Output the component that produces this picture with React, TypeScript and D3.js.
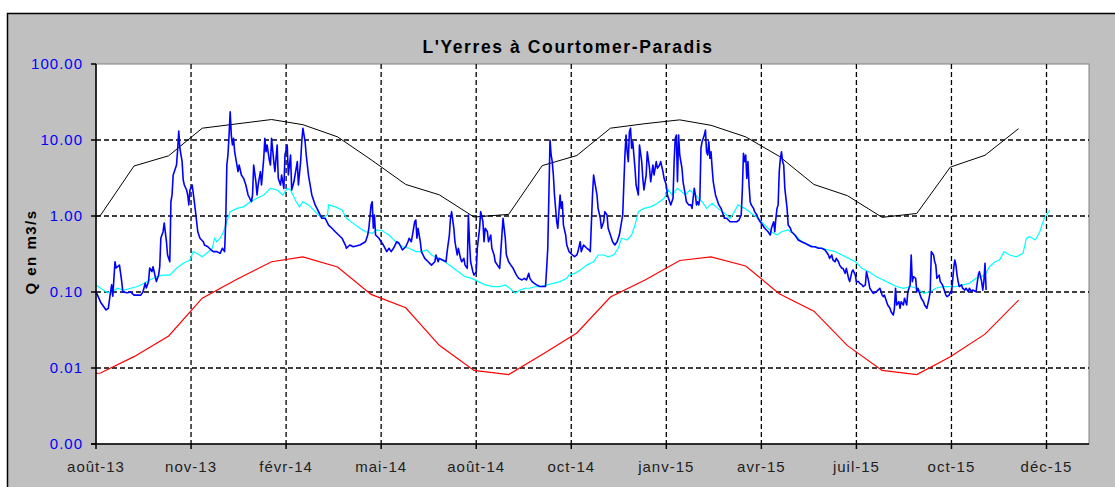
import React from 'react'
import * as d3 from 'd3'

// L'Yerres à Courtomer-Paradis : débit journalier + enveloppes mensuelles
const chartTitle = "L'Yerres à Courtomer-Paradis"
const yAxisTitle = 'Q en m3/s'
const yTicks = [100, 10, 1, 0.1, 0.01, 0.001]
const xTickDates = ['2013-08-28', '2013-11-21', '2014-02-14', '2014-05-10', '2014-08-03', '2014-10-27',
    '2015-01-20', '2015-04-15', '2015-07-09', '2015-10-02', '2015-12-26']
const frMonths = ['janv', 'févr', 'mars', 'avr', 'mai', 'juin', 'juil', 'août', 'sept', 'oct', 'nov', 'déc']
const xDomain = ['2013-08-28', '2016-02-02']

// maximum mensuel (noir)
const monthlyMax: [string, number][] = [
    ['2013-08-28', 0.98], ['2013-09-01', 1.02], ['2013-10-01', 4.55], ['2013-11-01', 6.2], ['2013-12-01', 14.3],
    ['2014-01-01', 16.3], ['2014-02-01', 18.6], ['2014-03-01', 15.9], ['2014-04-01', 11.0], ['2014-05-01', 5.5],
    ['2014-06-01', 2.6], ['2014-07-01', 1.9], ['2014-08-01', 0.97], ['2014-09-01', 1.05], ['2014-10-01', 4.6],
    ['2014-11-01', 6.25], ['2014-12-01', 14.3], ['2015-01-01', 16.4], ['2015-02-01', 18.4], ['2015-03-01', 15.6],
    ['2015-04-01', 11.0], ['2015-05-01', 6.1], ['2015-06-01', 2.6], ['2015-07-01', 1.85], ['2015-08-01', 0.96],
    ['2015-09-01', 1.08], ['2015-10-01', 4.4], ['2015-11-01', 6.3], ['2015-12-01', 14.1],
]

// minimum mensuel (rouge)
const monthlyMin: [string, number][] = [
    ['2013-08-28', 0.0085], ['2013-09-01', 0.0086], ['2013-10-01', 0.0141], ['2013-11-01', 0.0264], ['2013-12-01', 0.083],
    ['2014-01-01', 0.147], ['2014-02-01', 0.25], ['2014-03-01', 0.29], ['2014-04-01', 0.213], ['2014-05-01', 0.093],
    ['2014-06-01', 0.062], ['2014-07-01', 0.0199], ['2014-08-01', 0.0093], ['2014-09-01', 0.0082], ['2014-10-01', 0.0151],
    ['2014-11-01', 0.0289], ['2014-12-01', 0.086], ['2015-01-01', 0.144], ['2015-02-01', 0.26], ['2015-03-01', 0.29],
    ['2015-04-01', 0.22], ['2015-05-01', 0.095], ['2015-06-01', 0.056], ['2015-07-01', 0.0197], ['2015-08-01', 0.0093],
    ['2015-09-01', 0.0082], ['2015-10-01', 0.0141], ['2015-11-01', 0.0279], ['2015-12-01', 0.078],
]

// médiane interannuelle (cyan)
const medianFlow: [string, number][] = [
    ['2013-08-28', 0.124], ['2013-09-01', 0.112], ['2013-09-06', 0.101], ['2013-09-10', 0.096], ['2013-09-16', 0.112],
    ['2013-09-22', 0.106], ['2013-09-28', 0.112], ['2013-10-04', 0.118], ['2013-10-10', 0.13], ['2013-10-15', 0.144],
    ['2013-10-21', 0.159], ['2013-10-27', 0.167], ['2013-11-02', 0.167], ['2013-11-08', 0.205], ['2013-11-14', 0.239],
    ['2013-11-20', 0.264], ['2013-11-23', 0.34], ['2013-11-26', 0.323], ['2013-12-01', 0.291], ['2013-12-05', 0.323],
    ['2013-12-10', 0.376], ['2013-12-12', 0.51], ['2013-12-14', 0.459], ['2013-12-17', 0.51], ['2013-12-20', 0.62],
    ['2013-12-23', 0.84], ['2013-12-26', 1.14], ['2014-01-01', 1.26], ['2014-01-07', 1.32], ['2014-01-13', 1.54],
    ['2014-01-19', 1.71], ['2014-01-25', 1.89], ['2014-01-31', 2.31], ['2014-02-06', 2.2], ['2014-02-11', 1.89],
    ['2014-02-15', 2.31], ['2014-02-18', 2.2], ['2014-02-23', 1.54], ['2014-02-26', 1.32], ['2014-03-01', 1.54],
    ['2014-03-06', 1.4], ['2014-03-12', 1.14], ['2014-03-18', 0.933], ['2014-03-23', 1.03], ['2014-03-24', 1.4],
    ['2014-03-30', 1.32], ['2014-04-05', 1.2], ['2014-04-09', 0.933], ['2014-04-15', 0.8], ['2014-04-21', 0.689],
    ['2014-04-26', 0.62], ['2014-05-02', 0.591], ['2014-05-06', 0.655], ['2014-05-11', 0.64], ['2014-05-17', 0.562],
    ['2014-05-23', 0.459], ['2014-05-29', 0.394], ['2014-06-04', 0.376], ['2014-06-10', 0.34], ['2014-06-15', 0.34],
    ['2014-06-20', 0.357], ['2014-06-24', 0.307], ['2014-06-30', 0.277], ['2014-07-06', 0.25], ['2014-07-12', 0.215],
    ['2014-07-18', 0.185], ['2014-07-24', 0.159], ['2014-07-30', 0.151], ['2014-08-05', 0.137], ['2014-08-11', 0.124],
    ['2014-08-18', 0.118], ['2014-08-24', 0.118], ['2014-08-29', 0.124], ['2014-09-02', 0.112], ['2014-09-07', 0.096],
    ['2014-09-11', 0.106], ['2014-09-16', 0.112], ['2014-09-20', 0.112], ['2014-09-25', 0.118], ['2014-09-29', 0.118],
    ['2014-10-05', 0.124], ['2014-10-11', 0.13], ['2014-10-17', 0.137], ['2014-10-23', 0.151], ['2014-10-25', 0.167],
    ['2014-10-30', 0.176], ['2014-11-04', 0.195], ['2014-11-10', 0.226], ['2014-11-16', 0.25], ['2014-11-20', 0.307],
    ['2014-11-25', 0.307], ['2014-11-29', 0.291], ['2014-12-04', 0.307], ['2014-12-08', 0.376], ['2014-12-11', 0.51],
    ['2014-12-16', 0.483], ['2014-12-20', 0.562], ['2014-12-23', 0.76], ['2014-12-26', 1.14], ['2014-12-31', 1.26],
    ['2015-01-06', 1.32], ['2015-01-12', 1.47], ['2015-01-18', 1.71], ['2015-01-22', 2.2], ['2015-01-25', 1.89],
    ['2015-01-30', 2.31], ['2015-02-01', 2.2], ['2015-02-06', 1.89], ['2015-02-10', 2.2], ['2015-02-15', 1.89],
    ['2015-02-21', 1.54], ['2015-02-25', 1.26], ['2015-03-02', 1.47], ['2015-03-07', 1.26], ['2015-03-13', 1.09],
    ['2015-03-18', 0.933], ['2015-03-22', 1.14], ['2015-03-25', 1.4], ['2015-03-31', 1.26], ['2015-04-06', 1.09],
    ['2015-04-12', 0.933], ['2015-04-18', 0.76], ['2015-04-24', 0.62], ['2015-04-29', 0.562], ['2015-05-03', 0.62],
    ['2015-05-09', 0.655], ['2015-05-15', 0.562], ['2015-05-21', 0.459], ['2015-05-27', 0.415], ['2015-06-02', 0.394],
    ['2015-06-08', 0.376], ['2015-06-14', 0.357], ['2015-06-20', 0.34], ['2015-06-26', 0.307], ['2015-07-02', 0.277],
    ['2015-07-08', 0.25], ['2015-07-14', 0.205], ['2015-07-20', 0.185], ['2015-07-27', 0.159], ['2015-08-02', 0.144],
    ['2015-08-08', 0.13], ['2015-08-14', 0.118], ['2015-08-20', 0.112], ['2015-08-26', 0.118], ['2015-09-01', 0.112],
    ['2015-09-07', 0.096], ['2015-09-13', 0.101], ['2015-09-18', 0.112], ['2015-09-24', 0.118], ['2015-09-30', 0.118],
    ['2015-10-06', 0.118], ['2015-10-12', 0.124], ['2015-10-18', 0.13], ['2015-10-24', 0.151], ['2015-10-28', 0.159],
    ['2015-11-01', 0.167], ['2015-11-05', 0.215], ['2015-11-10', 0.25], ['2015-11-14', 0.264], ['2015-11-18', 0.34],
    ['2015-11-23', 0.307], ['2015-11-29', 0.291], ['2015-12-05', 0.323], ['2015-12-08', 0.51], ['2015-12-11', 0.535],
    ['2015-12-16', 0.483], ['2015-12-20', 0.62], ['2015-12-24', 0.933], ['2015-12-29', 1.2],
]

// débit journalier observé (bleu)
const dailyFlow: [string, number][] = [
    ['2013-08-28', 0.101], ['2013-09-01', 0.074], ['2013-09-06', 0.058], ['2013-09-08', 0.061], ['2013-09-10', 0.1],
    ['2013-09-11', 0.124], ['2013-09-12', 0.088], ['2013-09-14', 0.25], ['2013-09-15', 0.207], ['2013-09-18', 0.226],
    ['2013-09-20', 0.137], ['2013-09-21', 0.1], ['2013-09-25', 0.098], ['2013-09-28', 0.1], ['2013-10-01', 0.091],
    ['2013-10-07', 0.091], ['2013-10-09', 0.1], ['2013-10-11', 0.131], ['2013-10-12', 0.113], ['2013-10-14', 0.137],
    ['2013-10-15', 0.207], ['2013-10-17', 0.185], ['2013-10-18', 0.215], ['2013-10-20', 0.159], ['2013-10-21', 0.137],
    ['2013-10-23', 0.167], ['2013-10-24', 0.215], ['2013-10-25', 0.514], ['2013-10-27', 0.621], ['2013-10-28', 0.81],
    ['2013-10-30', 0.459], ['2013-10-31', 0.307], ['2013-11-02', 0.25], ['2013-11-03', 1.54], ['2013-11-04', 1.89],
    ['2013-11-05', 3.46], ['2013-11-06', 3.83], ['2013-11-08', 4.69], ['2013-11-09', 7.4], ['2013-11-10', 13.1],
    ['2013-11-11', 7.8], ['2013-11-13', 5.2], ['2013-11-14', 2.98], ['2013-11-15', 2.56], ['2013-11-17', 2.2],
    ['2013-11-18', 1.89], ['2013-11-19', 1.4], ['2013-11-20', 2.2], ['2013-11-22', 2.56], ['2013-11-23', 1.99],
    ['2013-11-25', 1.14], ['2013-11-26', 0.84], ['2013-11-27', 0.62], ['2013-11-29', 0.51], ['2013-12-02', 0.459],
    ['2013-12-03', 0.415], ['2013-12-06', 0.394], ['2013-12-09', 0.357], ['2013-12-11', 0.34], ['2013-12-14', 0.34],
    ['2013-12-17', 0.323], ['2013-12-19', 0.376], ['2013-12-21', 0.34], ['2013-12-22', 0.84], ['2013-12-23', 4.69],
    ['2013-12-24', 6.35], ['2013-12-25', 11.6], ['2013-12-26', 23.5], ['2013-12-27', 11.6], ['2013-12-28', 8.6],
    ['2013-12-29', 10.5], ['2013-12-30', 7.0], ['2014-01-01', 4.69], ['2014-01-02', 3.83], ['2014-01-03', 4.69],
    ['2014-01-05', 3.46], ['2014-01-07', 3.13], ['2014-01-09', 2.56], ['2014-01-11', 1.89], ['2014-01-14', 1.54],
    ['2014-01-15', 1.89], ['2014-01-16', 4.69], ['2014-01-18', 2.82], ['2014-01-19', 1.89], ['2014-01-20', 2.56],
    ['2014-01-22', 3.83], ['2014-01-23', 2.56], ['2014-01-25', 5.74], ['2014-01-26', 10.5], ['2014-01-27', 7.0],
    ['2014-01-28', 8.6], ['2014-01-30', 5.45], ['2014-01-31', 4.69], ['2014-02-01', 10.5], ['2014-02-03', 5.2],
    ['2014-02-04', 3.83], ['2014-02-06', 8.6], ['2014-02-07', 3.13], ['2014-02-09', 2.56], ['2014-02-10', 3.46],
    ['2014-02-12', 2.31], ['2014-02-13', 6.35], ['2014-02-15', 8.6], ['2014-02-16', 3.46], ['2014-02-18', 6.35],
    ['2014-02-19', 2.2], ['2014-02-21', 2.82], ['2014-02-22', 3.46], ['2014-02-24', 5.2], ['2014-02-25', 2.56],
    ['2014-02-27', 5.2], ['2014-02-28', 9.5], ['2014-03-01', 14.3], ['2014-03-03', 9.5], ['2014-03-04', 6.35],
    ['2014-03-06', 3.46], ['2014-03-09', 1.89], ['2014-03-12', 1.4], ['2014-03-15', 1.14], ['2014-03-18', 0.933],
    ['2014-03-21', 0.933], ['2014-03-24', 0.76], ['2014-03-27', 0.689], ['2014-03-30', 0.62], ['2014-04-02', 0.562],
    ['2014-04-05', 0.51], ['2014-04-08', 0.415], ['2014-04-09', 0.376], ['2014-04-12', 0.415], ['2014-04-15', 0.394],
    ['2014-04-21', 0.415], ['2014-04-26', 0.459], ['2014-04-28', 0.562], ['2014-04-29', 0.689], ['2014-05-01', 1.4],
    ['2014-05-02', 1.54], ['2014-05-03', 0.689], ['2014-05-04', 1.03], ['2014-05-05', 0.562], ['2014-05-08', 0.51],
    ['2014-05-10', 0.459], ['2014-05-12', 0.415], ['2014-05-15', 0.34], ['2014-05-17', 0.376], ['2014-05-19', 0.34],
    ['2014-05-21', 0.376], ['2014-05-24', 0.459], ['2014-05-26', 0.438], ['2014-05-29', 0.357], ['2014-06-01', 0.394],
    ['2014-06-03', 0.459], ['2014-06-04', 0.51], ['2014-06-06', 0.459], ['2014-06-07', 0.562], ['2014-06-09', 0.84],
    ['2014-06-10', 0.885], ['2014-06-11', 0.51], ['2014-06-12', 0.689], ['2014-06-14', 0.459], ['2014-06-15', 0.34],
    ['2014-06-18', 0.277], ['2014-06-21', 0.25], ['2014-06-24', 0.226], ['2014-06-27', 0.25], ['2014-06-28', 0.307],
    ['2014-06-30', 0.25], ['2014-07-01', 0.277], ['2014-07-04', 0.264], ['2014-07-07', 0.25], ['2014-07-08', 0.34],
    ['2014-07-10', 0.562], ['2014-07-11', 0.933], ['2014-07-12', 1.14], ['2014-07-14', 0.689], ['2014-07-15', 0.459],
    ['2014-07-17', 0.307], ['2014-07-18', 0.376], ['2014-07-20', 0.277], ['2014-07-21', 0.25], ['2014-07-23', 0.277],
    ['2014-07-24', 0.226], ['2014-07-26', 0.205], ['2014-07-27', 1.03], ['2014-07-28', 0.459], ['2014-07-29', 0.25],
    ['2014-07-31', 0.185], ['2014-08-01', 0.167], ['2014-08-03', 0.185], ['2014-08-04', 0.376], ['2014-08-06', 0.689],
    ['2014-08-07', 1.14], ['2014-08-09', 0.84], ['2014-08-10', 0.459], ['2014-08-11', 0.689], ['2014-08-13', 0.62],
    ['2014-08-14', 0.459], ['2014-08-16', 0.562], ['2014-08-17', 0.376], ['2014-08-19', 0.307], ['2014-08-20', 0.25],
    ['2014-08-22', 0.226], ['2014-08-24', 0.205], ['2014-08-25', 0.34], ['2014-08-27', 0.933], ['2014-08-28', 0.689],
    ['2014-08-29', 0.51], ['2014-08-30', 0.307], ['2014-09-01', 0.25], ['2014-09-03', 0.226], ['2014-09-05', 0.205],
    ['2014-09-08', 0.167], ['2014-09-10', 0.151], ['2014-09-13', 0.144], ['2014-09-15', 0.151], ['2014-09-17', 0.144],
    ['2014-09-19', 0.176], ['2014-09-20', 0.151], ['2014-09-22', 0.137], ['2014-09-24', 0.13], ['2014-09-26', 0.124],
    ['2014-09-29', 0.118], ['2014-10-04', 0.118], ['2014-10-05', 0.205], ['2014-10-06', 0.376], ['2014-10-07', 1.89],
    ['2014-10-08', 10], ['2014-10-09', 6.35], ['2014-10-10', 5.2], ['2014-10-11', 3.46], ['2014-10-12', 1.89],
    ['2014-10-14', 0.84], ['2014-10-15', 0.689], ['2014-10-17', 1.89], ['2014-10-18', 1.26], ['2014-10-19', 1.54],
    ['2014-10-20', 0.76], ['2014-10-22', 0.562], ['2014-10-23', 0.415], ['2014-10-25', 0.34], ['2014-10-28', 0.307],
    ['2014-10-30', 0.291], ['2014-11-01', 0.307], ['2014-11-02', 0.34], ['2014-11-04', 0.459], ['2014-11-05', 0.34],
    ['2014-11-07', 0.415], ['2014-11-10', 0.376], ['2014-11-12', 0.357], ['2014-11-13', 0.34], ['2014-11-15', 1.89],
    ['2014-11-16', 3.46], ['2014-11-17', 2.82], ['2014-11-19', 1.89], ['2014-11-20', 1.26], ['2014-11-22', 0.933],
    ['2014-11-23', 0.689], ['2014-11-25', 0.84], ['2014-11-26', 1.14], ['2014-11-28', 1.03], ['2014-11-29', 0.689],
    ['2014-12-01', 0.562], ['2014-12-03', 0.459], ['2014-12-05', 0.415], ['2014-12-07', 0.459], ['2014-12-09', 0.562],
    ['2014-12-10', 0.689], ['2014-12-12', 1.03], ['2014-12-13', 2.56], ['2014-12-14', 6.35], ['2014-12-15', 11.6],
    ['2014-12-16', 7.0], ['2014-12-17', 5.2], ['2014-12-18', 12.8], ['2014-12-19', 14.3], ['2014-12-20', 7.8],
    ['2014-12-21', 9.5], ['2014-12-23', 4.25], ['2014-12-24', 2.56], ['2014-12-26', 1.89], ['2014-12-27', 8.6],
    ['2014-12-29', 5.2], ['2014-12-30', 3.13], ['2014-12-31', 2.2], ['2015-01-02', 3.46], ['2015-01-03', 7.0],
    ['2015-01-05', 4.25], ['2015-01-06', 2.82], ['2015-01-08', 4.69], ['2015-01-09', 3.46], ['2015-01-11', 5.2],
    ['2015-01-12', 4.25], ['2015-01-14', 4.69], ['2015-01-15', 5.2], ['2015-01-17', 3.83], ['2015-01-18', 3.13],
    ['2015-01-20', 2.56], ['2015-01-21', 1.89], ['2015-01-23', 1.54], ['2015-01-24', 1.4], ['2015-01-26', 1.71],
    ['2015-01-27', 5.2], ['2015-01-28', 10.5], ['2015-01-29', 11.6], ['2015-01-30', 2.82], ['2015-01-31', 11.6],
    ['2015-02-01', 6.35], ['2015-02-03', 4.25], ['2015-02-04', 2.82], ['2015-02-06', 1.89], ['2015-02-07', 1.54],
    ['2015-02-09', 1.4], ['2015-02-11', 1.4], ['2015-02-12', 1.26], ['2015-02-14', 2.31], ['2015-02-15', 1.89],
    ['2015-02-16', 1.4], ['2015-02-17', 1.54], ['2015-02-18', 1.4], ['2015-02-19', 1.71], ['2015-02-20', 7.8],
    ['2015-02-21', 9.5], ['2015-02-23', 11.6], ['2015-02-24', 13.5], ['2015-02-25', 7.0], ['2015-02-26', 6.35],
    ['2015-02-27', 9.5], ['2015-02-28', 5.74], ['2015-03-01', 7.0], ['2015-03-02', 4.25], ['2015-03-03', 2.82],
    ['2015-03-04', 2.31], ['2015-03-05', 1.89], ['2015-03-07', 1.54], ['2015-03-08', 1.4], ['2015-03-10', 1.26],
    ['2015-03-11', 1.14], ['2015-03-13', 0.933], ['2015-03-15', 0.933], ['2015-03-18', 0.84], ['2015-03-20', 0.84],
    ['2015-03-24', 0.84], ['2015-03-26', 0.885], ['2015-03-28', 1.03], ['2015-03-29', 2.2], ['2015-03-30', 6.68],
    ['2015-03-31', 5.2], ['2015-04-01', 6.35], ['2015-04-02', 3.13], ['2015-04-03', 5.2], ['2015-04-04', 2.56],
    ['2015-04-05', 1.54], ['2015-04-06', 1.4], ['2015-04-08', 1.26], ['2015-04-09', 1.14], ['2015-04-11', 1.03],
    ['2015-04-12', 0.933], ['2015-04-14', 0.84], ['2015-04-16', 0.76], ['2015-04-18', 0.689], ['2015-04-21', 0.62],
    ['2015-04-23', 0.562], ['2015-04-24', 0.689], ['2015-04-26', 0.84], ['2015-04-27', 0.62], ['2015-04-28', 0.933],
    ['2015-04-29', 1.26], ['2015-04-30', 1.4], ['2015-05-01', 3.83], ['2015-05-02', 5.74], ['2015-05-03', 7.0],
    ['2015-05-04', 5.2], ['2015-05-05', 4.69], ['2015-05-06', 2.31], ['2015-05-08', 1.26], ['2015-05-09', 0.76],
    ['2015-05-11', 0.689], ['2015-05-12', 0.62], ['2015-05-15', 0.562], ['2015-05-18', 0.483], ['2015-05-21', 0.459],
    ['2015-05-24', 0.438], ['2015-05-27', 0.415], ['2015-05-30', 0.394], ['2015-06-02', 0.394], ['2015-06-05', 0.376],
    ['2015-06-08', 0.376], ['2015-06-11', 0.357], ['2015-06-14', 0.307], ['2015-06-15', 0.277], ['2015-06-17', 0.307],
    ['2015-06-18', 0.264], ['2015-06-20', 0.25], ['2015-06-21', 0.277], ['2015-06-23', 0.25], ['2015-06-24', 0.226],
    ['2015-06-26', 0.205], ['2015-06-27', 0.205], ['2015-06-29', 0.176], ['2015-06-30', 0.205], ['2015-07-02', 0.151],
    ['2015-07-03', 0.137], ['2015-07-05', 0.185], ['2015-07-06', 0.195], ['2015-07-08', 0.167], ['2015-07-09', 0.137],
    ['2015-07-11', 0.137], ['2015-07-12', 0.13], ['2015-07-14', 0.124], ['2015-07-15', 0.118], ['2015-07-17', 0.124],
    ['2015-07-18', 0.185], ['2015-07-20', 0.137], ['2015-07-21', 0.112], ['2015-07-23', 0.101], ['2015-07-24', 0.096],
    ['2015-07-27', 0.101], ['2015-07-30', 0.112], ['2015-08-01', 0.091], ['2015-08-02', 0.087], ['2015-08-03', 0.091],
    ['2015-08-05', 0.0745], ['2015-08-06', 0.0674], ['2015-08-08', 0.061], ['2015-08-09', 0.055], ['2015-08-11', 0.0498],
    ['2015-08-12', 0.061], ['2015-08-13', 0.112], ['2015-08-14', 0.0674], ['2015-08-16', 0.0745], ['2015-08-17', 0.061],
    ['2015-08-18', 0.0745], ['2015-08-20', 0.0674], ['2015-08-21', 0.0826], ['2015-08-23', 0.0674], ['2015-08-24', 0.101],
    ['2015-08-26', 0.124], ['2015-08-27', 0.307], ['2015-08-28', 0.137], ['2015-08-29', 0.159], ['2015-08-31', 0.151],
    ['2015-09-01', 0.101], ['2015-09-02', 0.112], ['2015-09-04', 0.091], ['2015-09-05', 0.0826], ['2015-09-07', 0.0745],
    ['2015-09-08', 0.0674], ['2015-09-10', 0.061], ['2015-09-12', 0.0826], ['2015-09-13', 0.101], ['2015-09-14', 0.34],
    ['2015-09-16', 0.307], ['2015-09-17', 0.25], ['2015-09-18', 0.226], ['2015-09-19', 0.151], ['2015-09-21', 0.167],
    ['2015-09-22', 0.137], ['2015-09-24', 0.124], ['2015-09-25', 0.112], ['2015-09-27', 0.091], ['2015-09-28', 0.087],
    ['2015-09-30', 0.091], ['2015-10-01', 0.101], ['2015-10-02', 0.096], ['2015-10-04', 0.205], ['2015-10-05', 0.264],
    ['2015-10-06', 0.226], ['2015-10-07', 0.167], ['2015-10-08', 0.137], ['2015-10-09', 0.118], ['2015-10-11', 0.124],
    ['2015-10-12', 0.112], ['2015-10-14', 0.106], ['2015-10-15', 0.112], ['2015-10-17', 0.101], ['2015-10-18', 0.112],
    ['2015-10-20', 0.101], ['2015-10-21', 0.106], ['2015-10-24', 0.101], ['2015-10-26', 0.167], ['2015-10-27', 0.185],
    ['2015-10-29', 0.137], ['2015-10-30', 0.106], ['2015-10-31', 0.137], ['2015-11-01', 0.239], ['2015-11-02', 0.106],
]

const parseDate = d3.timeParse('%Y-%m-%d')
const FONT = "Arial, 'Liberation Sans', sans-serif"

const width = 1115
const height = 487
const plot = { left: 96, top: 64, right: 1089, bottom: 444 }

const App = () => {
    const xScale = d3.scaleTime()
        .domain(xDomain.map(s => parseDate(s) as Date))
        .range([plot.left, plot.right])

    const yScale = d3.scaleLog()
        .domain([0.001, 100])
        .range([plot.bottom, plot.top])

    const line = d3.line<[string, number]>()
        .x(d => xScale(parseDate(d[0]) as Date))
        .y(d => yScale(d[1]))

    const fmtY = d3.format('.2f')
    const fmtX = (s: string) => {
        const d = parseDate(s) as Date
        return frMonths[d.getMonth()] + '-' + String(d.getFullYear()).slice(2)
    }

    return (
        <svg width={width} height={height} style={{ position: 'absolute', left: 0, top: 0, display: 'block' }}
            fontFamily={FONT}>
            <rect x={0} y={0} width={width} height={height} fill='#fff' />
            <rect x={7.5} y={13.5} width={width + 20} height={height + 20} fill='#c0c0c0' stroke='#000' strokeWidth={1.5} />

            <text x={568} y={53} textAnchor='middle' fontSize={17.5} fontWeight='bold' letterSpacing={1.6} fill='#000'>
                {chartTitle}
            </text>

            <rect x={plot.left} y={plot.top} width={plot.right - plot.left} height={plot.bottom - plot.top}
                fill='#fff' stroke='#808080' strokeWidth={1} />

            {/* grille */}
            {yTicks.filter(v => v < 100 && v > 0.001).map(v => (
                <line key={'gy' + v} x1={plot.left} x2={plot.right} y1={yScale(v)} y2={yScale(v)}
                    stroke='#000' strokeWidth={1.3} strokeDasharray='5,3' />
            ))}
            {xTickDates.slice(1).map(s => (
                <line key={'gx' + s} x1={xScale(parseDate(s) as Date)} x2={xScale(parseDate(s) as Date)}
                    y1={plot.top} y2={plot.bottom} stroke='#000' strokeWidth={1.3} strokeDasharray='5,3' />
            ))}

            {/* séries */}
            <path d={line(monthlyMax) ?? ''} fill='none' stroke='#000' strokeWidth={1} />
            <path d={line(monthlyMin) ?? ''} fill='none' stroke='#ff0000' strokeWidth={1.2} />
            <path d={line(medianFlow) ?? ''} fill='none' stroke='#00ffff' strokeWidth={1.2} />
            <path d={line(dailyFlow) ?? ''} fill='none' stroke='#0000ff' strokeWidth={1.6} strokeLinejoin='round' />

            {/* axe Y */}
            <line x1={plot.left} x2={plot.left} y1={plot.top} y2={plot.bottom} stroke='#000' strokeWidth={1.5} />
            {yTicks.map(v => (
                <g key={'ty' + v}>
                    <line x1={plot.left - 5} x2={plot.left} y1={yScale(v)} y2={yScale(v)} stroke='#000' strokeWidth={1.5} />
                    <text x={plot.left - 13} y={yScale(v)} dy='0.35em' textAnchor='end' fontSize={15}
                        letterSpacing={1} fill='#0000ff'>
                        {fmtY(v)}
                    </text>
                </g>
            ))}
            <text transform={`translate(36,${(plot.top + plot.bottom) / 2 - 2}) rotate(-90)`} textAnchor='middle'
                fontSize={15} fontWeight='bold' letterSpacing={1.5} fill='#000'>{yAxisTitle}</text>

            {/* axe X */}
            <line x1={plot.left - 5} x2={plot.right} y1={plot.bottom} y2={plot.bottom} stroke='#000' strokeWidth={1.5} />
            {xTickDates.map(s => (
                <g key={'tx' + s}>
                    <line x1={xScale(parseDate(s) as Date)} x2={xScale(parseDate(s) as Date)}
                        y1={plot.bottom} y2={plot.bottom + 5} stroke='#000' strokeWidth={1.5} />
                    <text x={xScale(parseDate(s) as Date)} y={plot.bottom + 28} textAnchor='middle' fontSize={15}
                        letterSpacing={1} fill='#222'>
                        {fmtX(s)}
                    </text>
                </g>
            ))}
        </svg>
    )
}

export default App
